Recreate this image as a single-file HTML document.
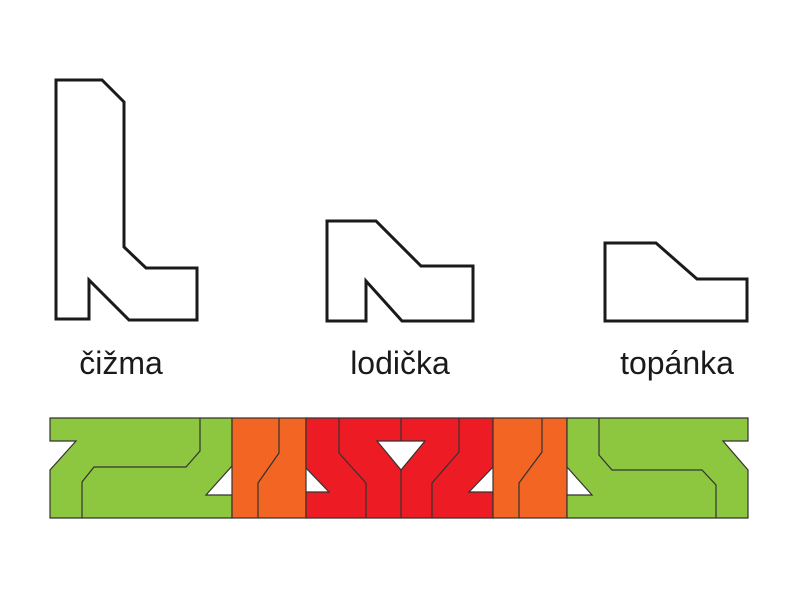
<!DOCTYPE html>
<html><head><style>body{margin:0;background:#fff}svg{display:block}</style></head><body>
<svg width="800" height="600" viewBox="0 0 800 600" xmlns="http://www.w3.org/2000/svg">
<g fill="#fff" stroke="#1a1a1a" stroke-width="3" stroke-linejoin="miter">
<polygon points="56,80 102,80 124,102 124,247 146,268 197,268 197,320 129,320 89,280 89,319 56,319"/>
<polygon points="327,221 376,221 421,266 473,266 473,321 402,321 366,281 366,321 327,321"/>
<polygon points="605,243 656,243 697,279 747,279 747,321 605,321"/>
</g>
<g font-family="Liberation Sans, sans-serif" font-size="32" fill="#1a1a1a" text-anchor="middle">
<text x="121" y="374">čižma</text>
<text x="400" y="374">lodička</text>
<text x="677" y="374">topánka</text>
</g>
<g stroke="#333" stroke-width="1.2">
<polygon fill="#8dc63f" points="50,418 232,418 232,466 206,495 232,495 232,518 50,518 50,470 76,441 50,441"/>
<rect fill="#f26522" x="232" y="418" width="74" height="100"/>
<polygon fill="#ed1c24" points="306,418 493,418 493,467 469,492 493,492 493,518 306,518 306,492 329,492 306,468"/>
<rect fill="#f26522" x="493" y="418" width="74" height="100"/>
<polygon fill="#8dc63f" points="567,418 748,418 748,441 723,441 748,470 748,518 567,518 567,495 592,495 567,467"/>
<polygon fill="#fff" points="377,441 425,441 401,470"/>
<g fill="none">
<polyline points="200,418 200,451 186,467 94,467 82,482 82,518"/>
<polyline points="279,418 279,453 258,483 258,518"/>
<polyline points="339,418 339,453 366,483 366,518"/>
<polyline points="401,418 401,441"/>
<polyline points="401,470 401,518"/>
<polyline points="459,418 459,452 432,483 432,518"/>
<polyline points="542,418 542,452 519,483 519,518"/>
<polyline points="599,418 599,455 612,470 702,470 716,485 716,518"/>
</g>
</g>
</svg>
</body></html>
